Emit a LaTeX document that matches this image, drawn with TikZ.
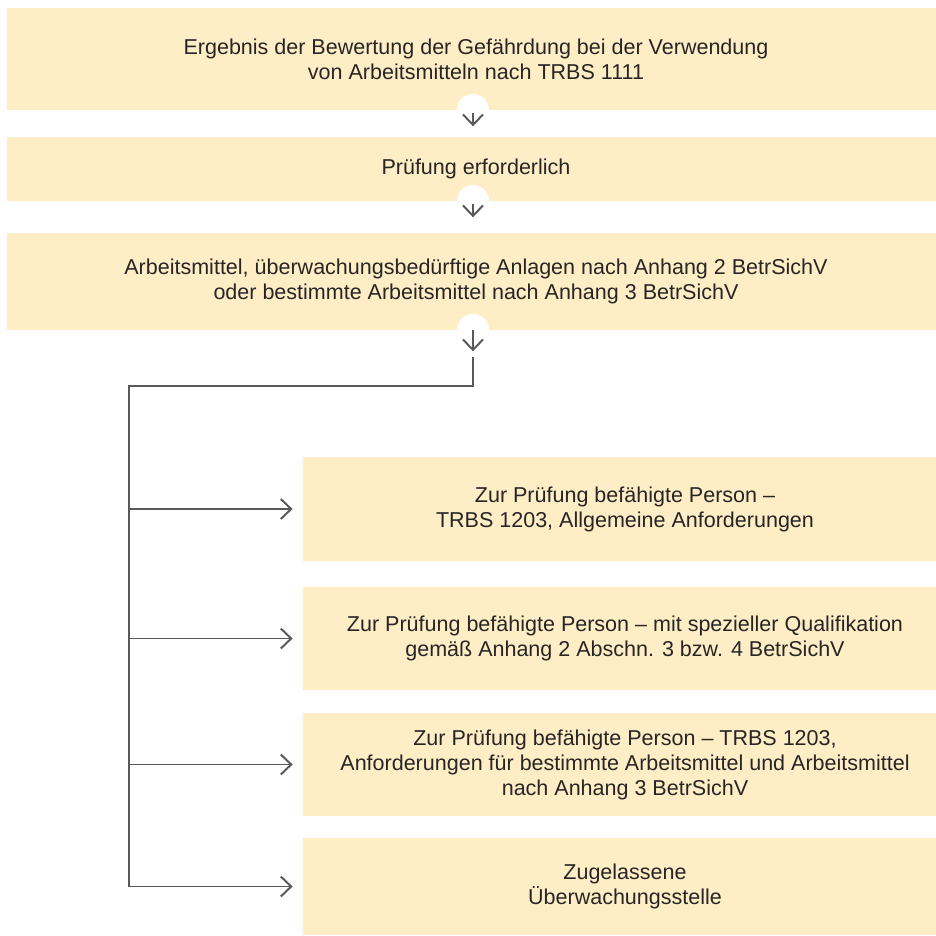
\documentclass[tikz,border=0pt]{standalone}
\usepackage{fontspec}
\setmainfont{Liberation Sans}
\usepackage{tikz}
\usetikzlibrary{arrows.meta, positioning, calc}
\definecolor{boxgelb}{HTML}{FFEDC5}
\definecolor{liniengrau}{HTML}{595959}
\definecolor{textgrau}{HTML}{262626}

\begin{document}
\begin{tikzpicture}[x=0.025cm, y=-0.025cm,
    stufe/.style={rectangle, fill=boxgelb, text=textgrau, inner sep=0pt, align=center, font=\fontsize{15.3}{17.8}\selectfont},
    breit/.style={stufe, minimum width=23.45cm},
    pruefer/.style={stufe, minimum width=16.1cm},
    kreis/.style={circle, fill=white, minimum size=0.8cm, inner sep=0pt},
    arrow/.style={-{Straight Barb[length=2.6mm, width=5mm]}, line width=1.4pt, draw=liniengrau},
    linie/.style={line width=1.4pt, draw=liniengrau}
]
\useasboundingbox (0,0) rectangle (936,936);

\node[breit, minimum height=2.55cm] (res) at (476,59) {Ergebnis der Bewertung der Gefährdung bei der Verwendung\\von Arbeitsmitteln nach TRBS 1111};
\node[breit, minimum height=1.6cm] (pruef) at (476,169) {Prüfung erforderlich};
\node[breit, minimum height=2.425cm] (anl) at (476,281.5) {Arbeitsmittel, überwachungsbedürftige Anlagen nach Anhang 2 BetrSichV\\oder bestimmte Arbeitsmittel nach Anhang 3 BetrSichV};
\node[pruefer, minimum height=2.6cm] (bp1) at (625,509) {Zur Prüfung befähigte Person –\\TRBS 1203, Allgemeine Anforderungen};
\node[pruefer, minimum height=2.575cm] (bp2) at (625,638.5) {Zur Prüfung befähigte Person – mit spezieller Qualifikation\\gemäß Anhang 2 Abschn. 3 bzw. 4 BetrSichV};
\node[pruefer, minimum height=2.575cm] (bp3) at (625,764.5) {Zur Prüfung befähigte Person – TRBS 1203,\\Anforderungen für bestimmte Arbeitsmittel und Arbeitsmittel\\nach Anhang 3 BetrSichV};
\node[pruefer, minimum height=2.425cm] (zues) at (625,886.5) {Zugelassene\\Überwachungsstelle};

\node[kreis] (k1) at (473,110) {};
\node[kreis] (k2) at (473,201) {};
\node[kreis] (k3) at (473,330) {};
\coordinate (knick) at (129,386);

\draw[arrow] ([yshift=-0.075cm]k1.center) -- (k1.south);
\draw[arrow] ([yshift=-0.075cm]k2.center) -- (k2.south);
\draw[arrow] (k3.center) -- ([yshift=-0.125cm]k3.south);
\draw[linie] ([yshift=-0.275cm]k3.south) |- (knick) -- (knick |- zues.west);
\draw[arrow, shorten >=0.25cm] (knick |- bp1.west) -- (bp1.west);
\draw[arrow, shorten >=0.25cm] (knick |- bp2.west) -- (bp2.west);
\draw[arrow, shorten >=0.25cm] (knick |- bp3.west) -- (bp3.west);
\draw[arrow, shorten >=0.25cm] (knick |- zues.west) -- (zues.west);
\end{tikzpicture}
\end{document}
